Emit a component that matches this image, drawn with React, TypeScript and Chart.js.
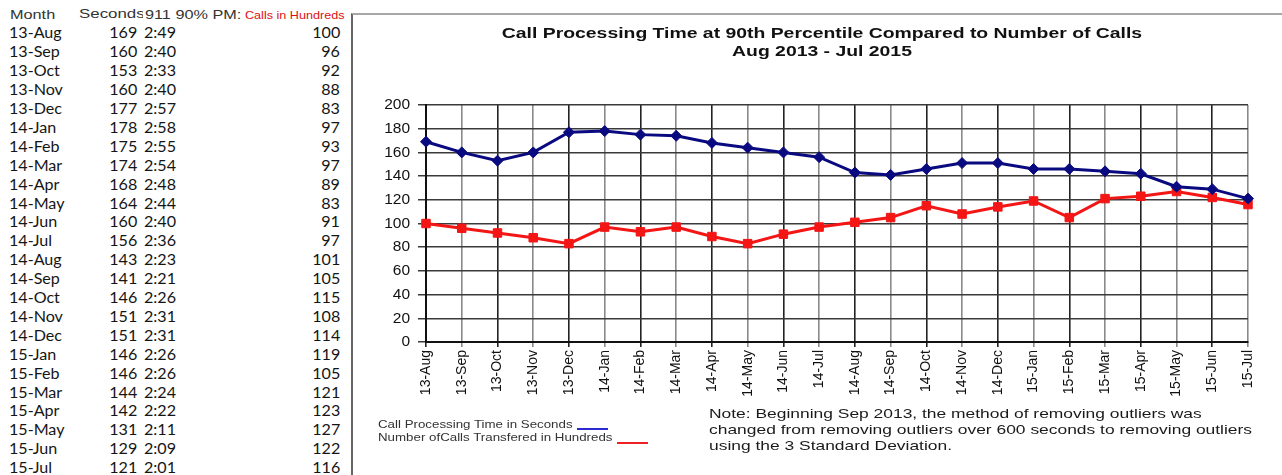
import React, { useEffect, useRef } from 'react';
import { Chart, registerables } from 'chart.js';

Chart.register(...registerables);

const months = [
  '13-Aug', '13-Sep', '13-Oct', '13-Nov', '13-Dec', '14-Jan', '14-Feb', '14-Mar',
  '14-Apr', '14-May', '14-Jun', '14-Jul', '14-Aug', '14-Sep', '14-Oct', '14-Nov',
  '14-Dec', '15-Jan', '15-Feb', '15-Mar', '15-Apr', '15-May', '15-Jun', '15-Jul',
];
const seconds = [169, 160, 153, 160, 177, 178, 175, 174, 168, 164, 160, 156, 143, 141, 146, 151, 151, 146, 146, 144, 142, 131, 129, 121];
const times = ['2:49', '2:40', '2:33', '2:40', '2:57', '2:58', '2:55', '2:54', '2:48', '2:44', '2:40', '2:36', '2:23', '2:21', '2:26', '2:31', '2:31', '2:26', '2:26', '2:24', '2:22', '2:11', '2:09', '2:01'];
const calls = [100, 96, 92, 88, 83, 97, 93, 97, 89, 83, 91, 97, 101, 105, 115, 108, 114, 119, 105, 121, 123, 127, 122, 116];

const titleLines = ['Call Processing Time at 90th Percentile Compared to Number of Calls', 'Aug 2013 - Jul 2015'];
const legendLabels = ['Call Processing Time in Seconds', 'Number ofCalls Transfered in Hundreds'];
const noteLines = [
  'Note: Beginning Sep 2013, the method of removing outliers was',
  'changed from removing outliers over 600 seconds to removing outliers',
  'using the 3 Standard Deviation.',
];

const W = 1282;
const ARIAL = '"Liberation Sans", Arial, sans-serif';

type TProps = {
  x: number; y: number; align?: 'left' | 'right' | 'center'; size: number; font?: string;
  color?: string; sx?: number; weight?: string | number; lh?: number; children: React.ReactNode;
};

function T({ x, y, align = 'left', size, font = ARIAL, color = '#222', sx = 1, weight = 'normal', lh, children }: TProps) {
  const lineH = lh ?? Math.round(size * 1.3);
  const style: React.CSSProperties = {
    position: 'absolute', top: y - lineH / 2, height: lineH, lineHeight: `${lineH}px`,
    fontSize: size, fontFamily: font, color, fontWeight: weight as any, whiteSpace: 'nowrap',
  };
  if (align === 'left') {
    style.left = x; style.transform = `scaleX(${sx})`; style.transformOrigin = 'left center';
  } else if (align === 'right') {
    style.right = W - x; style.transform = `scaleX(${sx})`; style.transformOrigin = 'right center';
  } else {
    style.left = x; style.transform = `translateX(-50%) scaleX(${sx})`;
  }
  return <div style={style}>{children}</div>;
}

const ROW0 = 14;
const ROWH = 18.9;
const TABLE_FONT = 'Lato, "Open Sans", sans-serif';

export default function App() {
  const ref = useRef<HTMLCanvasElement>(null);

  useEffect(() => {
    if (!ref.current) return;
    const chart = new Chart(ref.current, {
      type: 'line',
      data: {
        labels: months,
        datasets: [
          {
            label: legendLabels[0],
            data: seconds,
            borderColor: '#0a0a80',
            backgroundColor: '#0a0a80',
            borderWidth: 3,
            pointStyle: 'rectRot',
            pointRadius: 5.5,
            pointBorderWidth: 1,
            tension: 0,
          },
          {
            label: legendLabels[1],
            data: calls,
            borderColor: '#f41515',
            backgroundColor: '#f41515',
            borderWidth: 3,
            pointStyle: 'rect',
            pointRadius: 6,
            pointBorderWidth: 1,
            tension: 0,
          },
        ],
      },
      options: {
        animation: false,
        responsive: true,
        maintainAspectRatio: false,
        layout: { padding: { top: 91, right: 34, bottom: 0, left: 0 } },
        plugins: {
          legend: { display: false },
          title: { display: false },
          tooltip: { enabled: false },
        },
        scales: {
          x: {
            offset: false,
            grid: {
              color: (c: any) => (c.index % 2 === 0 ? '#222' : '#8a8a8a'),
              lineWidth: 1.6,
              tickLength: 5,
              drawTicks: true,
            },
            border: { color: '#111', width: 2 },
            ticks: {
              autoSkip: false,
              minRotation: 90,
              maxRotation: 90,
              padding: 3,
              color: '#111',
              font: { family: ARIAL, size: 14 },
            },
            afterFit: (s: any) => { s.height = 133; },
          },
          y: {
            min: 0,
            max: 200,
            ticks: {
              stepSize: 20,
              padding: 8,
              color: '#111',
              font: { family: ARIAL, size: 15.5 },
            },
            grid: { color: '#3a3a3a', lineWidth: 1.5, tickLength: 8 },
            border: { color: '#111', width: 2 },
            afterFit: (s: any) => { s.width = 74; },
          },
        },
      },
    });
    return () => chart.destroy();
  }, []);

  return (
    <div style={{ position: 'absolute', left: 0, top: 0, width: W, height: 475, overflow: 'hidden', background: '#fff' }}>
      {/* table header */}
      <T x={10} y={ROW0} size={13} sx={1.25} color="#333">Month</T>
      <div style={{ position: 'absolute', left: 79, top: 0, width: 64, height: 30, overflow: 'hidden' }}>
        <T x={0} y={ROW0} size={13.5} sx={1.25} color="#333">Seconds</T>
      </div>
      <div style={{ position: 'absolute', left: 145, top: 0, width: 97, height: 30, overflow: 'hidden' }}>
        <T x={0} y={ROW0} size={13} sx={1.25} color="#333">911 90% PM:SS</T>
      </div>
      <T x={245} y={ROW0 + 1} size={10.5} sx={1.2} color="#e01010">Calls in Hundreds</T>
      {/* table rows */}
      {months.map((m, i) => {
        const y = ROW0 + (i + 1) * ROWH;
        return (
          <React.Fragment key={m}>
            <T x={9} y={y} size={14.5} sx={1.11} font={TABLE_FONT} color="#151515">{m}</T>
            <T x={137} y={y} align="right" size={14.5} sx={1.11} font={TABLE_FONT} color="#151515">{seconds[i]}</T>
            <T x={144} y={y} size={14.5} sx={1.11} font={TABLE_FONT} color="#151515">{times[i]}</T>
            <T x={340} y={y} align="right" size={14.5} sx={1.11} font={TABLE_FONT} color="#151515">{calls[i]}</T>
          </React.Fragment>
        );
      })}
      {/* chart box border */}
      <div style={{ position: 'absolute', left: 351, top: 13, width: 940, height: 470, borderTop: '2px solid #a8a8a8', borderLeft: '2px solid #666', boxSizing: 'border-box' }} />
      <div style={{ position: 'absolute', left: 352, top: 14, width: 930, height: 461 }}>
        <canvas ref={ref} />
      </div>
      {/* title */}
      <T x={822} y={33} align="center" size={15.5} sx={1.25} weight="bold" color="#111">{titleLines[0]}</T>
      <T x={822} y={51} align="center" size={15.5} sx={1.25} weight="bold" color="#111">{titleLines[1]}</T>
      {/* legend */}
      <T x={378} y={424} size={11} sx={1.21} color="#333">{legendLabels[0]}</T>
      <div style={{ position: 'absolute', left: 577, top: 428, width: 31, height: 2, background: '#2a2ad0' }} />
      <T x={378} y={437} size={11} sx={1.21} color="#333">{legendLabels[1]}</T>
      <div style={{ position: 'absolute', left: 617, top: 442, width: 31, height: 2, background: '#ee2222' }} />
      {/* note */}
      {noteLines.map((l, i) => (
        <T key={i} x={709} y={414 + i * 16} size={13.5} sx={1.29} color="#1a1a1a">{l}</T>
      ))}
    </div>
  );
}
